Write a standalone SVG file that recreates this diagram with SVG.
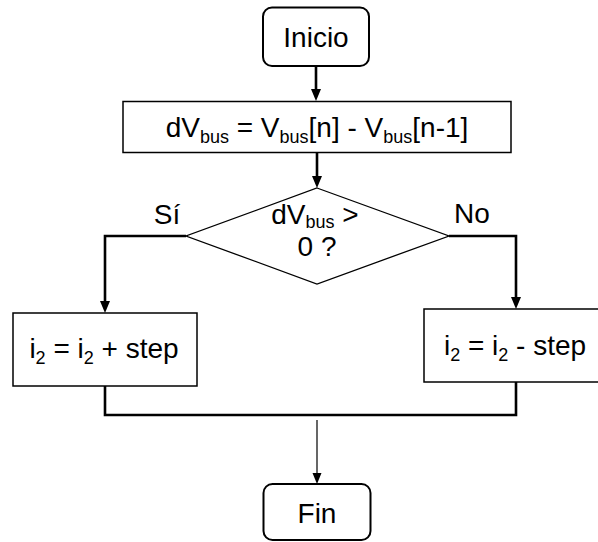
<svg xmlns="http://www.w3.org/2000/svg" width="598" height="542" viewBox="0 0 598 542">
  <style>
    .lbl { font-family: "Liberation Sans", Arial, sans-serif; font-size: 28px; fill: #000; text-anchor: middle; }
    .sub { font-size: 18px; }
    .term { fill: #fff; stroke: #000; stroke-width: 2; }
    .proc { fill: #fff; stroke: #000; stroke-width: 1.5; }
    .dec { fill: #fff; stroke: #000; stroke-width: 1.3; }
    .flow { fill: none; stroke: #000; stroke-width: 2.6; }
    .thin { fill: none; stroke: #000; stroke-width: 1.2; }
  </style>
  <defs>
    <marker id="arrow" markerUnits="userSpaceOnUse" markerWidth="12" markerHeight="10" refX="4" refY="5" orient="auto">
      <path d="M0,0 L12,5 L0,10 z" fill="#000"/>
    </marker>
    <marker id="arrowThin" markerUnits="userSpaceOnUse" markerWidth="11" markerHeight="10" refX="3" refY="5" orient="auto">
      <path d="M0,0.5 L11,5 L0,9.5 z" fill="#000"/>
    </marker>
  </defs>

  <g id="connectors">
    <path class="flow" d="M316,66 V93" marker-end="url(#arrow)"/>
    <path class="flow" d="M317,152 V180" marker-end="url(#arrow)"/>
    <path class="flow" d="M186,236 H105 V305" marker-end="url(#arrow)"/>
    <path class="flow" d="M449,236 H516 V301" marker-end="url(#arrow)"/>
    <path class="flow" d="M105,386 V415 H516 V382"/>
    <path class="thin" d="M317,420 V476" marker-end="url(#arrowThin)"/>
    <text class="lbl" x="167" y="224">Sí</text>
    <text class="lbl" x="472" y="223">No</text>
  </g>

  <g id="inicio">
    <rect class="term" x="263" y="7.5" width="106" height="58.5" rx="9"/>
    <text class="lbl" x="316" y="47">Inicio</text>
  </g>

  <g id="delta">
    <rect class="proc" x="123" y="101.5" width="388" height="51"/>
    <text class="lbl" x="317" y="137">dV<tspan class="sub" dy="6">bus</tspan><tspan dy="-6"> = V</tspan><tspan class="sub" dy="6">bus</tspan><tspan dy="-6">[n] - V</tspan><tspan class="sub" dy="6">bus</tspan><tspan dy="-6">[n-1]</tspan></text>
  </g>

  <g id="decision">
    <polygon class="dec" points="317,188 449,236 317,284 186,236"/>
    <text class="lbl" x="315" y="224">dV<tspan class="sub" dy="4">bus</tspan><tspan dy="-4"> &gt;</tspan><tspan x="317" dy="32">0 ?</tspan></text>
  </g>

  <g id="increment">
    <rect class="proc" x="13" y="313" width="184" height="73"/>
    <text class="lbl" x="104" y="358">i<tspan class="sub" dy="6">2</tspan><tspan dy="-6"> = i</tspan><tspan class="sub" dy="6">2</tspan><tspan dy="-6"> + step</tspan></text>
  </g>

  <g id="decrement">
    <rect class="proc" x="424" y="309" width="184" height="73"/>
    <text class="lbl" x="515" y="355">i<tspan class="sub" dy="6">2</tspan><tspan dy="-6"> = i</tspan><tspan class="sub" dy="6">2</tspan><tspan dy="-6"> - step</tspan></text>
  </g>

  <g id="fin">
    <rect class="term" x="263.5" y="484" width="107" height="56" rx="9"/>
    <text class="lbl" x="317" y="523">Fin</text>
  </g>
</svg>
